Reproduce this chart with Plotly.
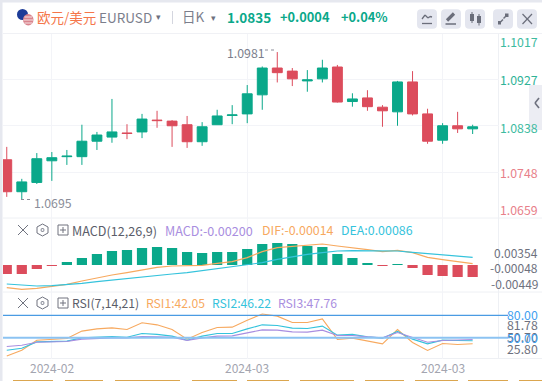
import plotly.graph_objects as go

W, H = 542, 381
FONT = "Noto Sans CJK SC"
UP, DOWN = "#0aa88a", "#dc4c5c"
ORANGE, CYAN, PURPLE = "#f7a95f", "#35c3dc", "#a98ee0"
GRID = "#f3f4f8"

# ---- data ----
candle_index = list(range(32))
open_ = [1.0772,1.0710,1.0728,1.0770,1.0778,1.0778,1.0808,1.0816,1.0824,1.0826,1.0849,1.0847,1.0840,1.0807,1.0840,1.0858,
         1.0861,1.0898,1.0950,1.0944,1.0925,1.0929,1.0952,1.0885,1.0892,1.0874,1.0865,1.0923,1.0861,1.0810,1.0838,1.0832]
high = [1.0797,1.0735,1.0785,1.0787,1.0791,1.0840,1.0826,1.0890,1.0841,1.0861,1.0867,1.0849,1.0857,1.0845,1.0869,1.0878,
        1.0917,1.0953,1.0981,1.0950,1.0946,1.0966,1.0956,1.0901,1.0907,1.0878,1.0925,1.0944,1.0871,1.0843,1.0865,1.0840]
low = [1.0700,1.0695,1.0725,1.0731,1.0762,1.0762,1.0791,1.0805,1.0812,1.0814,1.0834,1.0797,1.0795,1.0799,1.0840,1.0841,
       1.0843,1.0869,1.0922,1.0915,1.0904,1.0922,1.0883,1.0875,1.0867,1.0836,1.0838,1.0858,1.0803,1.0803,1.0824,1.0822]
close = [1.0710,1.0729,1.0774,1.0776,1.0779,1.0808,1.0820,1.0826,1.0823,1.0851,1.0848,1.0838,1.0807,1.0836,1.0857,1.0859,
         1.0900,1.0950,1.0941,1.0929,1.0927,1.0950,1.0884,1.0890,1.0875,1.0867,1.0923,1.0861,1.0808,1.0838,1.0832,1.0836]
macd = [-.00150,-.00150,-.00067,-.00011,.00050,.00117,.00184,.00234,.00251,.00284,.00301,.00284,.00217,.00200,.00217,.00217,
        .00267,.00351,.00368,.00351,.00317,.00301,.00184,.00117,.00033,-.00006,.00006,-.00050,-.00167,-.00184,-.00200,-.00200]
dif = [-.00379,-.00407,-.00390,-.00351,-.00323,-.00267,-.00212,-.00167,-.00128,-.00078,-.00039,-.00017,-.00017,-.00006,.00028,.00056,
       .00123,.00223,.00290,.00312,.00329,.00351,.00317,.00290,.00256,.00223,.00245,.00206,.00128,.00089,.00050,.00022]
dea = [-.00317,-.00334,-.00351,-.00345,-.00329,-.00306,-.00279,-.00251,-.00223,-.00201,-.00173,-.00150,-.00128,-.00095,-.00061,-.00033,
       0,.00039,.00095,.00139,.00178,.00206,.00234,.00240,.00240,.00234,.00234,.00212,.00189,.00167,.00145,.00128]
rsi1 = [25.8,33.5,46.9,47.9,49.2,59.0,62.0,63.4,61.2,70.1,67.4,61.2,48.3,57.2,63.9,64.3,
        73.7,81.78,79.0,70.6,70.6,75.4,47.9,49.6,45.6,42.0,61.2,43.8,33.1,42.5,41.2,42.05]
rsi2 = [33.5,36.2,44.6,45.2,45.6,50.0,51.3,51.9,50.9,55.9,54.6,52.3,46.9,52.3,55.9,55.9,
        62.0,67.4,66.6,63.0,62.6,65.7,53.6,54.6,51.3,49.6,58.6,48.3,42.0,46.9,46.5,46.22]
rsi3 = [38.5,40.2,44.2,44.6,45.2,48.3,49.2,50.0,50.0,51.9,51.3,50.9,46.5,50.0,52.3,52.7,
        56.7,60.7,60.3,58.0,57.6,60.3,53.2,53.2,51.3,50.0,57.2,50.5,44.2,46.5,46.9,47.76]
date_tick_index = [3, 16, 29]
date_tick_text = ["2024-02", "2024-03", "2024-03"]
price_ticks = [1.1017, 1.0927, 1.0838, 1.0748, 1.0659]
macd_ticks = [0.00354, -0.00048, -0.00449]
rsi_ticks = [81.78, 50.70, 25.80]
rsi_levels = [80.00, 50.00]

# ---- layout helpers (pixels -> paper) ----
def px(x): return x / W
def py(y): return 1 - y / H
shapes, ann = [], []

def text(x, y, s, color, size=12, anchor="left", bold=False):
    ann.append(dict(xref="paper", yref="paper", x=px(x), y=py(y), text=f"<b>{s}</b>" if bold else s, showarrow=False,
                    xanchor=anchor, yanchor="middle", font=dict(family=FONT, size=size, color=color),
                    borderpad=0, borderwidth=0))

def line(x0, y0, x1, y1, color, width=1, dash=None, layer="above"):
    shapes.append(dict(type="line", xref="paper", yref="paper", x0=px(x0), y0=py(y0), x1=px(x1), y1=py(y1),
                       line=dict(color=color, width=width, dash=dash or "solid"), layer=layer))

def rect(x0, y0, x1, y1, color, layer="above"):
    shapes.append(dict(type="rect", xref="paper", yref="paper", x0=px(x0), y0=py(y0), x1=px(x1), y1=py(y1),
                       fillcolor=color, line=dict(width=0), layer=layer))

def circle(x0, y0, x1, y1, color):
    shapes.append(dict(type="circle", xref="paper", yref="paper", x0=px(x0), y0=py(y0), x1=px(x1), y1=py(y1),
                       fillcolor=color, line=dict(width=0), layer="above"))

def button(x0, y0, x1, y1, color="#e4e6ef", r=4):
    p = (f"M {px(x0+r)} {py(y0)} L {px(x1-r)} {py(y0)} Q {px(x1)} {py(y0)} {px(x1)} {py(y0+r)} "
         f"L {px(x1)} {py(y1-r)} Q {px(x1)} {py(y1)} {px(x1-r)} {py(y1)} L {px(x0+r)} {py(y1)} "
         f"Q {px(x0)} {py(y1)} {px(x0)} {py(y1-r)} L {px(x0)} {py(y0+r)} Q {px(x0)} {py(y0)} {px(x0+r)} {py(y0)} Z")
    shapes.append(dict(type="path", xref="paper", yref="paper", path=p, fillcolor=color, line=dict(width=0), layer="above"))

fig = go.Figure()
fig.add_trace(go.Candlestick(x=candle_index, open=open_, high=high, low=low, close=close, xaxis="x", yaxis="y",
                             whiskerwidth=0,
                             increasing=dict(line=dict(color=UP, width=1), fillcolor=UP),
                             decreasing=dict(line=dict(color=DOWN, width=1), fillcolor=DOWN)))
fig.add_trace(go.Bar(x=candle_index, y=macd, xaxis="x2", yaxis="y2", width=0.68,
                     marker=dict(color=[UP if v > 0 else DOWN for v in macd], line=dict(width=0))))
fig.add_trace(go.Scatter(x=candle_index, y=dif, xaxis="x2", yaxis="y2", mode="lines", line=dict(color=ORANGE, width=1.2)))
fig.add_trace(go.Scatter(x=candle_index, y=dea, xaxis="x2", yaxis="y2", mode="lines", line=dict(color=CYAN, width=1.2)))
fig.add_trace(go.Scatter(x=candle_index, y=rsi1, xaxis="x3", yaxis="y3", mode="lines", line=dict(color=ORANGE, width=1.1)))
fig.add_trace(go.Scatter(x=candle_index, y=rsi2, xaxis="x3", yaxis="y3", mode="lines", line=dict(color=CYAN, width=1.1)))
fig.add_trace(go.Scatter(x=candle_index, y=rsi3, xaxis="x3", yaxis="y3", mode="lines", line=dict(color=PURPLE, width=1.1)))

# ---- frame ----
rect(0, 0, W, 2.5, "#e6e8ef")
rect(0, 0, 2.5, H, "#e6e8ef")
line(3, 33.5, W, 33.5, "#f0f1f5", layer="below")
line(3, 218, W, 218, "#eef0f4", layer="below")
line(3, 292, W, 292, "#eef0f4", layer="below")
line(3, 358.5, W, 358.5, "#eef0f4", layer="below")
line(498.5, 33.5, 498.5, 358.5, "#eef0f4", layer="below")
for a, b in [(13,53),(65,103),(115,180),(192,237),(247,289),(300,354),(365,404),(415,458),(468,508),(519,542)]:
    line(a, 380.5, b, 380.5, "#dba64f", 1)

# ---- header ----
circle(17, 9, 28, 20, "#1d3c98")
circle(23, 14, 33.5, 25.5, "#d9848d")
line(24.5, 17, 32, 17, "#f6e3e5", 1)
line(23.5, 20, 33, 20, "#f6e3e5", 1)
line(24.5, 23, 32, 23, "#f6e3e5", 1)
text(36.5, 16.5, "欧元/美元", "#f5764a", 13.5)
text(99, 17.5, "EURUSD", "#7b7e8c", 13.5)
text(158.5, 17, "▾", "#6e717e", 9, "center")
line(172.5, 11, 172.5, 24, "#d4d6df")
text(182, 16, "日K", "#7b7e8c", 13.5)
text(213.5, 17.5, "▾", "#6e717e", 9, "center")
text(227, 16.5, "1.0835", UP, 13.5, bold=True)
text(280, 16.5, "+0.0004", UP, 12.8, bold=True)
text(341, 16.5, "+0.04%", UP, 12.8, bold=True)
for a, b in [(417,437),(441,461),(465,485),(493,513),(517,537)]:
    button(a, 9.3, b, 28.7)
ICON = "#6b6e7b"
# line icon
line(422, 23.5, 432, 23.5, ICON, 1.3)
for (a, b, c, d) in [(422,19,425,15),(425,15,428,18),(428,18,430,16.5),(430,16.5,432,17)]:
    line(a, b, c, d, ICON, 1.3)
# pencil icon
line(447, 20.5, 454, 13.5, ICON, 3.2)
line(445.5, 24, 456, 24, ICON, 1.5)
# candle icon
rect(470, 14, 474, 21, ICON); line(472, 12, 472, 23, ICON)
rect(477, 16, 481, 23, ICON); line(479, 14, 479, 25.5, ICON)
# expand icon
line(499, 23.5, 503, 19.5, ICON, 1.5); rect(498, 21, 501, 24.5, ICON)
line(503.5, 18.5, 507.5, 14.5, ICON, 1.5); rect(505, 13.5, 508.5, 17, ICON)
# close icon
line(522.5, 14, 532, 24, ICON, 1.2); line(532, 14, 522.5, 24, ICON, 1.2)

# collapse tab
rect(529, 85, W, 130, "#ecedf3")
line(539, 98, 535, 103, "#6e717e", 1.6); line(535, 103, 539, 108, "#6e717e", 1.6)

# ---- main panel labels ----
price_colors = ["#3dbb9f", "#2fb397", "#3dbb9f", "#e8808a", "#e8808a"]
price_shift = [-8, 0, -2, -1, 8]
for v, c, s in zip(price_ticks, price_colors, price_shift):
    ann.append(dict(xref="paper", yref="y", x=px(539.5), y=v, yshift=s, text=f"{v:.4f}", showarrow=False, xanchor="right",
                    yanchor="middle", font=dict(family=FONT, size=12.3, color=c)))
text(226.5, 53, "1.0981", "#7b7e8c", 12.3)
line(265, 50, 277, 50, "#8a8d99", 1, "dot")
text(34, 202.5, "1.0695", "#8a8d99", 12.3)
line(21, 199.5, 33, 199.5, "#8a8d99", 1, "dot")

# ---- indicator headers ----
def tools(y):
    line(18, y-5, 28, y+5, "#70737f", 1); line(28, y-5, 18, y+5, "#70737f", 1)
    shapes.append(dict(type="path", xref="paper", yref="paper", layer="above", line=dict(color="#70737f", width=1),
                       path=(f"M {px(42.5)} {py(y-6)} L {px(48)} {py(y-3)} L {px(48)} {py(y+3)} L {px(42.5)} {py(y+6)} "
                             f"L {px(37)} {py(y+3)} L {px(37)} {py(y-3)} Z")))
    circle(40.5, y-2, 44.5, y+2, "#8a8d99")
    circle(41.5, y-1, 43.5, y+1, "#ffffff")
    shapes.append(dict(type="rect", xref="paper", yref="paper", x0=px(58), x1=px(68), y0=py(y-5), y1=py(y+5),
                       line=dict(color="#70737f", width=1), layer="above"))
    line(60, y, 66, y, "#70737f"); line(63, y-3, 63, y+3, "#70737f")

tools(230)
text(71.5, 230, "MACD(12,26,9)", "#5a5d69", 12.6)
text(165, 230, "MACD:-0.00200", PURPLE, 12.6)
text(262, 230, "DIF:-0.00014", ORANGE, 12.4)
text(341, 230, "DEA:0.00086", CYAN, 12.4)
tools(303)
text(71.5, 303, "RSI(7,14,21)", "#5a5d69", 12.2)
text(146, 303, "RSI1:42.05", ORANGE, 12.2)
text(212, 303, "RSI2:46.22", CYAN, 12.2)
text(278, 303, "RSI3:47.76", PURPLE, 12.2)

for v, s in zip(macd_ticks, [-9, 0, 8]):
    ann.append(dict(xref="paper", yref="y2", x=px(539.5), y=v, yshift=s, text=f"{v:.5f}", showarrow=False, xanchor="right",
                    yanchor="middle", font=dict(family=FONT, size=12, color="#6e717e")))
for v, s in zip(rsi_ticks, [-11, 0, 7]):
    ann.append(dict(xref="paper", yref="y3", x=px(539.5), y=v, yshift=s, text=f"{v:.2f}", showarrow=False, xanchor="right",
                    yanchor="middle", font=dict(family=FONT, size=12.3, color="#6e717e")))
for v, w in zip(rsi_levels, [1.2, 2]):
    shapes.append(dict(type="line", xref="paper", yref="y3", x0=px(3), x1=px(508), y0=v, y1=v, layer="above",
                       line=dict(color="#4a9be3" if v == 80 else "#8cc3f2", width=w)))
    ann.append(dict(xref="paper", yref="y3", x=px(539.5), y=v, text=f"{v:.2f}", showarrow=False, xanchor="right",
                    yanchor="middle", font=dict(family=FONT, size=12.3, color="#3f9ff0")))

for x, t in zip(date_tick_index, date_tick_text):
    ann.append(dict(xref="x3", yref="paper", x=x, y=py(367), text=t, showarrow=False, xanchor="center", yanchor="middle",
                    font=dict(family=FONT, size=12, color="#a3a5b0")))

xrange = [-0.25, 32.72]
common_x = dict(range=xrange, domain=[px(3), px(498.5)], tickmode="array", tickvals=date_tick_index, ticktext=["", "", ""],
                showgrid=True, gridcolor=GRID, gridwidth=1, zeroline=False, showline=False, ticks="",
                rangeslider=dict(visible=False))
common_y = dict(side="right", showticklabels=False, ticks="", zeroline=False, showline=False)

fig.update_layout(
    width=W, height=H, margin=dict(l=0, r=0, t=0, b=0), autosize=False,
    paper_bgcolor="white", plot_bgcolor="white", showlegend=False, boxgap=0.06, hovermode=False,
    font=dict(family=FONT),
    xaxis=dict(common_x, anchor="y"),
    xaxis2=dict(common_x, anchor="y2"),
    xaxis3=dict(common_x, anchor="y3"),
    yaxis=dict(common_y, anchor="x", domain=[py(218), py(33.5)], range=[1.0659, 1.1017],
               tickmode="array", tickvals=price_ticks, showgrid=True, gridcolor=GRID),
    yaxis2=dict(common_y, anchor="x2", domain=[py(292), py(218)], range=[-0.00451, 0.00785], showgrid=False),
    yaxis3=dict(common_y, anchor="x3", domain=[py(358.5), py(292)], range=[22.4, 111.3], showgrid=False),
    shapes=shapes, annotations=ann,
)
fig.write_html("out.html", config=dict(displayModeBar=False, responsive=False),
               post_script="document.body.style.margin='0';document.body.style.overflow='hidden';")
